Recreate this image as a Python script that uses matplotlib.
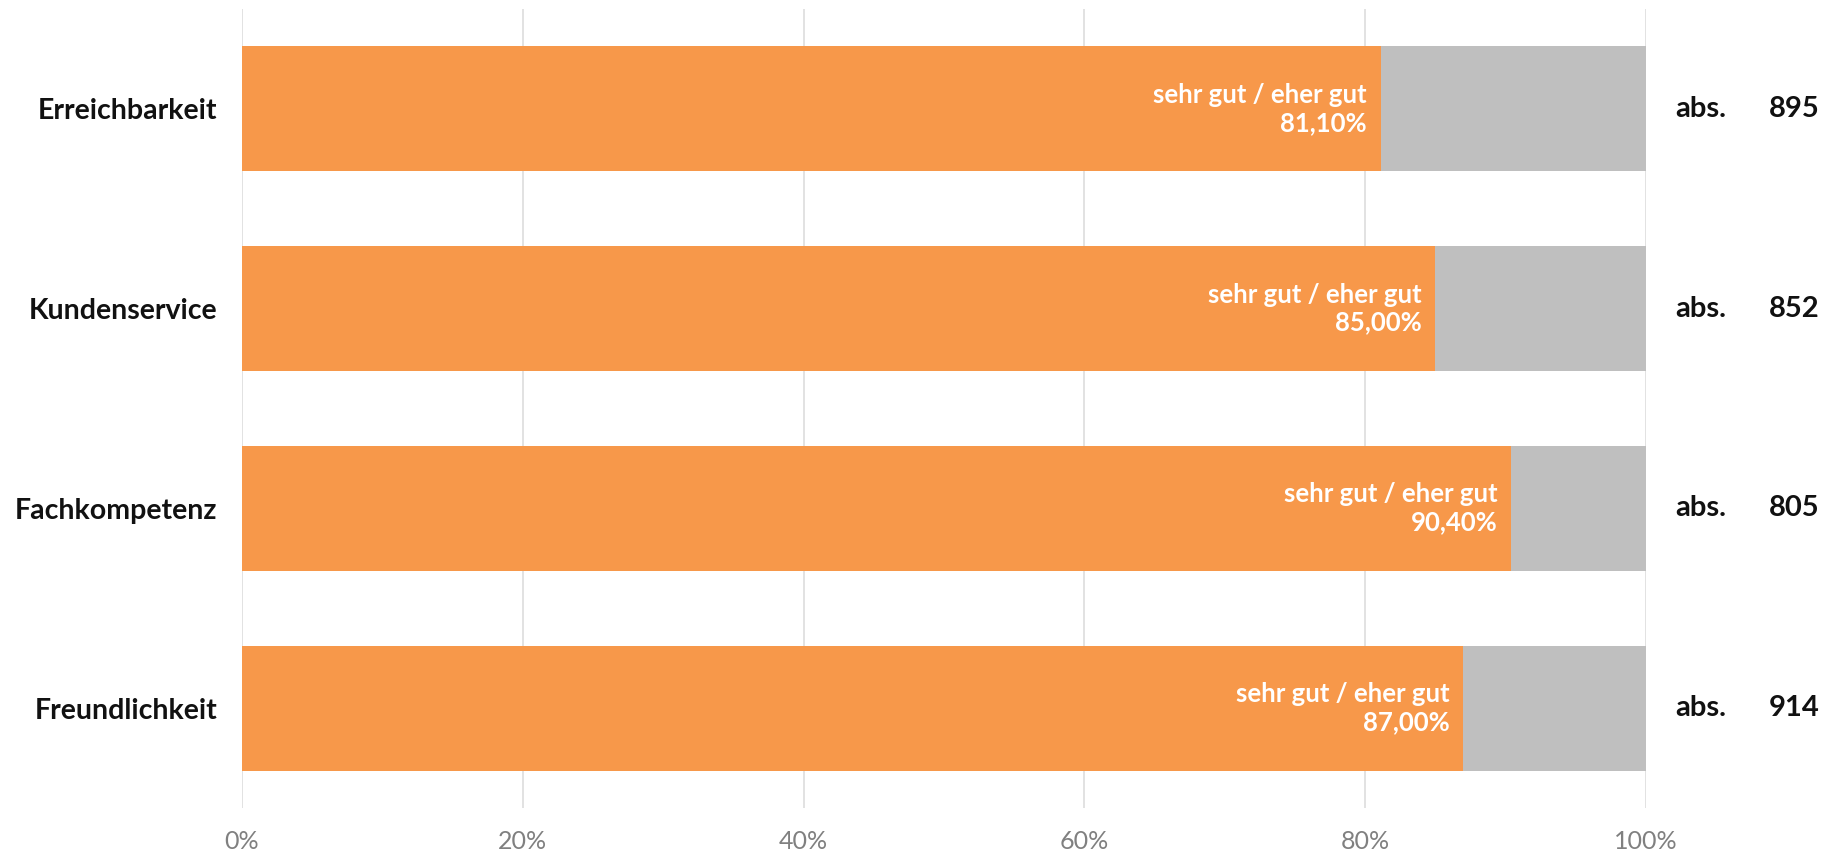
import matplotlib.pyplot as plt
import matplotlib.transforms as mtransforms

categories = ['Erreichbarkeit', 'Kundenservice', 'Fachkompetenz', 'Freundlichkeit']
good_share = [81.1, 85.0, 90.4, 87.0]
abs_counts = [895, 852, 805, 914]
label_text = 'sehr gut / eher gut'
xticks = [0, 20, 40, 60, 80, 100]

orange = '#F7984A'
grey = '#BFBFBF'

plt.rcParams['font.family'] = ['Lato', 'DejaVu Sans']

fig = plt.figure(figsize=(18.39, 8.51), dpi=100)
ax = fig.add_axes([242 / 1839, 1 - 808 / 851, (1646 - 242) / 1839, (808 - 9) / 851])

y = list(range(len(categories)))
rest = [100 - v for v in good_share]
ax.barh(y, good_share, height=0.625, color=orange, zorder=2)
ax.barh(y, rest, left=good_share, height=0.625, color=grey, zorder=2)

for yi, v in zip(y, good_share):
    ax.annotate(f'{label_text}\n{v:.2f}%'.replace('.', ','), xy=(v, yi),
                xytext=(-10, 0), textcoords='offset points',
                ha='right', va='center', color='white', fontsize=18.5,
                fontweight='bold', linespacing=1.2, zorder=3)

trans = mtransforms.blended_transform_factory(fig.transFigure, ax.transData)
for yi, n in zip(y, abs_counts):
    ax.text(1675 / 1839, yi, 'abs.', transform=trans, ha='left', va='center',
            fontsize=21, fontweight='bold', color='#111111')
    ax.text(1820 / 1839, yi, str(n), transform=trans, ha='right', va='center',
            fontsize=21, fontweight='bold', color='#111111')

ax.set_xlim(0, 100)
ax.set_ylim(len(categories) - 0.5, -0.5)
ax.set_yticks(y)
ax.set_yticklabels(categories, fontsize=20.5, fontweight='bold', color='#111111')
ax.set_xticks(xticks)
ax.set_xticklabels([f'{t}%' for t in xticks], fontsize=18, color='#808080')
ax.tick_params(axis='both', length=0)
ax.tick_params(axis='y', pad=18)
ax.tick_params(axis='x', pad=16)
ax.grid(axis='x', color='#DDDDDD', linewidth=1.2, zorder=0)
ax.set_axisbelow(True)
for s in ax.spines.values():
    s.set_visible(False)

fig.savefig('out.png', dpi=100)
